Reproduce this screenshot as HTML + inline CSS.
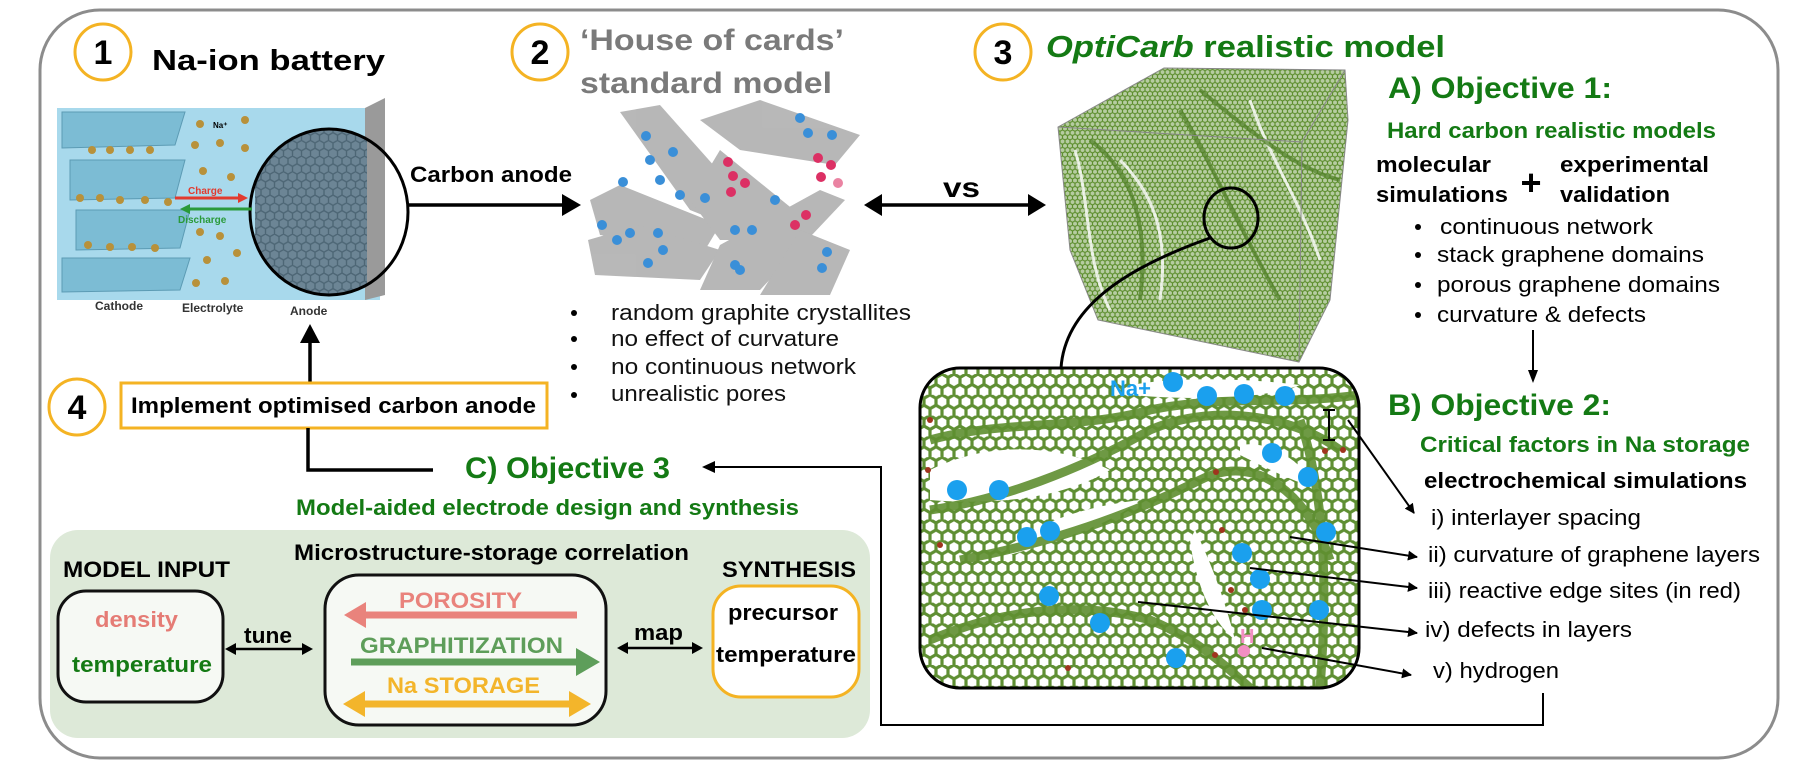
<!DOCTYPE html>
<html><head><meta charset="utf-8"><style>
html,body{margin:0;padding:0;background:#fff;}
svg{display:block;}
text{font-family:"Liberation Sans",Arial,sans-serif;}
</style></head><body>
<svg width="1794" height="772" viewBox="0 0 1794 772" xmlns="http://www.w3.org/2000/svg">
<defs>
<pattern id="hexL" width="12" height="20.78" patternUnits="userSpaceOnUse">
<path d="M0,3.46 L6,0 L12,3.46 M6,13.86 L6,20.78 M0,3.46 L0,10.39 L6,13.86 L12,10.39 L12,3.46" fill="none" stroke="#5f8f33" stroke-width="3.2"/>
</pattern>
<pattern id="hexS" width="5" height="8.66" patternUnits="userSpaceOnUse">
<path d="M0,1.44 L2.5,0 L5,1.44 M2.5,5.77 L2.5,8.66 M0,1.44 L0,4.33 L2.5,5.77 L5,4.33 L5,1.44" fill="none" stroke="#5f9030" stroke-width="1.2"/>
</pattern>
<pattern id="hexA" width="9" height="15.6" patternUnits="userSpaceOnUse">
<path d="M0,2.6 L4.5,0 L9,2.6 M4.5,10.4 L4.5,15.6 M0,2.6 L0,7.8 L4.5,10.4 L9,7.8 L9,2.6" fill="none" stroke="#4d6675" stroke-width="1.4"/>
</pattern>
<marker id="ah" markerWidth="10" markerHeight="10" refX="9" refY="5" orient="auto" markerUnits="userSpaceOnUse"><path d="M0,0 L10,5 L0,10 Z" fill="#000"/></marker>
<clipPath id="zc"><rect x="920" y="368" width="439" height="320" rx="40"/></clipPath>
<clipPath id="cc"><ellipse cx="329" cy="212" rx="79" ry="83"/></clipPath>
<clipPath id="cube"><polygon points="1058,127 1164,68 1345,70 1348,120 1330,300 1299,362 1098,320 1070,250"/></clipPath>
</defs>

<rect x="40" y="10" width="1738" height="748" rx="60" fill="none" stroke="#8c8c8c" stroke-width="3"/>

<g fill="#fff" stroke="#f4b323" stroke-width="3">
<circle cx="103" cy="52" r="28"/><circle cx="540" cy="52" r="28"/><circle cx="1003" cy="52" r="28"/><circle cx="77" cy="407" r="28"/>
</g>
<g font-size="34" font-weight="bold" text-anchor="middle" fill="#000">
<text x="103" y="64">1</text><text x="540" y="64">2</text><text x="1003" y="64">3</text><text x="77" y="419">4</text>
</g>

<text x="152" y="70" font-size="29" font-weight="bold" textLength="233" lengthAdjust="spacingAndGlyphs">Na-ion battery</text>
<text x="580" y="50" font-size="30" font-weight="bold" fill="#7a7a7a" textLength="264" lengthAdjust="spacingAndGlyphs">‘House of cards’</text>
<text x="580" y="93" font-size="30" font-weight="bold" fill="#7a7a7a" textLength="252" lengthAdjust="spacingAndGlyphs">standard model</text>
<text x="1046" y="57" font-size="31" font-weight="bold" fill="#147a14" textLength="399" lengthAdjust="spacingAndGlyphs"><tspan font-style="italic">OptiCarb</tspan> realistic model</text>

<!-- battery -->
<rect x="57" y="108" width="323" height="192" fill="#a8d9ec"/>
<polygon points="365,108 385,98 385,295 365,300" fill="#9a9a9a"/>
<g fill="#7cbcd4" stroke="#5c9bb4" stroke-width="1">
<polygon points="62,112 185,112 175,145 62,148"/>
<polygon points="70,160 185,160 175,198 70,200"/>
<polygon points="76,210 190,210 180,248 76,250"/>
<polygon points="62,258 190,258 180,290 62,292"/>
</g>
<g fill="#b8913a">
<circle cx="92" cy="150" r="4"/><circle cx="110" cy="150" r="4"/><circle cx="130" cy="150" r="4"/><circle cx="150" cy="150" r="4"/>
<circle cx="80" cy="198" r="4"/><circle cx="100" cy="198" r="4"/><circle cx="120" cy="200" r="4"/><circle cx="145" cy="200" r="4"/><circle cx="168" cy="202" r="4"/>
<circle cx="88" cy="245" r="4"/><circle cx="110" cy="247" r="4"/><circle cx="132" cy="247" r="4"/><circle cx="155" cy="248" r="4"/>
<circle cx="200" cy="124" r="4"/><circle cx="245" cy="120" r="4"/><circle cx="195" cy="145" r="4"/><circle cx="220" cy="143" r="4"/><circle cx="245" cy="148" r="4"/>
<circle cx="203" cy="171" r="4"/><circle cx="231" cy="177" r="4"/><circle cx="200" cy="232" r="4"/><circle cx="220" cy="236" r="4"/>
<circle cx="207" cy="260" r="4"/><circle cx="237" cy="253" r="4"/><circle cx="196" cy="283" r="4"/><circle cx="225" cy="281" r="4"/>
</g>
<g clip-path="url(#cc)"><rect x="255" y="130" width="112" height="170" fill="#6c8595"/><rect x="255" y="130" width="112" height="170" fill="url(#hexA)"/></g>
<ellipse cx="329" cy="212" rx="79" ry="83" fill="none" stroke="#000" stroke-width="3"/>
<line x1="175" y1="198" x2="240" y2="198" stroke="#e23a2e" stroke-width="3"/><polygon points="248,198 238,193 238,203" fill="#e23a2e"/>
<line x1="190" y1="209" x2="252" y2="209" stroke="#2a9a3a" stroke-width="3"/><polygon points="180,209 190,204 190,214" fill="#2a9a3a"/>
<text x="188" y="194" font-size="10" font-weight="bold" fill="#e23a2e">Charge</text>
<text x="178" y="223" font-size="10" font-weight="bold" fill="#2a9a3a">Discharge</text>
<text x="213" y="128" font-size="8" font-weight="bold">Na⁺</text>
<g font-size="12" font-weight="bold" fill="#333"><text x="95" y="310">Cathode</text><text x="182" y="312">Electrolyte</text><text x="290" y="315">Anode</text></g>

<line x1="408" y1="205" x2="565" y2="205" stroke="#000" stroke-width="3.5"/><polygon points="581,205 562,194 562,216" fill="#000"/>
<text x="410" y="182" font-size="22" font-weight="bold" textLength="162" lengthAdjust="spacingAndGlyphs">Carbon anode</text>

<!-- house of cards -->
<g fill="#ababab" opacity="0.85">
<polygon points="620,112 660,105 740,195 720,222 690,210"/>
<polygon points="590,200 620,185 720,225 705,250 600,235"/>
<polygon points="588,240 640,225 720,250 700,280 595,275"/>
<polygon points="700,290 720,245 820,190 845,200 760,290"/>
<polygon points="700,120 760,100 860,135 835,165 740,150"/>
<polygon points="690,200 720,150 800,215 780,240 720,240"/>
<polygon points="760,295 800,230 850,250 830,295"/>
</g>
<g fill="#3a8fd8"><circle cx="646" cy="136" r="5"/><circle cx="673" cy="152" r="5"/><circle cx="650" cy="160" r="5"/><circle cx="623" cy="182" r="5"/><circle cx="660" cy="180" r="5"/><circle cx="680" cy="195" r="5"/><circle cx="705" cy="198" r="5"/>
<circle cx="602" cy="225" r="5"/><circle cx="630" cy="233" r="5"/><circle cx="658" cy="233" r="5"/><circle cx="663" cy="250" r="5"/><circle cx="648" cy="263" r="5"/><circle cx="617" cy="240" r="5"/>
<circle cx="735" cy="230" r="5"/><circle cx="752" cy="230" r="5"/><circle cx="775" cy="200" r="5"/><circle cx="735" cy="265" r="5"/><circle cx="740" cy="270" r="5"/><circle cx="800" cy="118" r="5"/><circle cx="808" cy="133" r="5"/><circle cx="832" cy="135" r="5"/><circle cx="822" cy="268" r="5"/><circle cx="827" cy="252" r="5"/></g>
<g fill="#dc3064"><circle cx="728" cy="162" r="5"/><circle cx="733" cy="176" r="5"/><circle cx="745" cy="183" r="5"/><circle cx="731" cy="192" r="5"/><circle cx="818" cy="158" r="5"/><circle cx="831" cy="165" r="5"/><circle cx="821" cy="177" r="5"/><circle cx="838" cy="183" r="5" opacity="0.6"/><circle cx="795" cy="225" r="5"/><circle cx="806" cy="215" r="5"/></g>

<g font-size="22" fill="#111">
<circle cx="574" cy="313" r="3" fill="#000"/><circle cx="574" cy="339" r="3" fill="#000"/><circle cx="574" cy="367" r="3" fill="#000"/><circle cx="574" cy="395" r="3" fill="#000"/>
<text x="611" y="320" textLength="300" lengthAdjust="spacingAndGlyphs">random graphite crystallites</text>
<text x="611" y="346" textLength="228" lengthAdjust="spacingAndGlyphs">no effect of curvature</text>
<text x="611" y="374" textLength="245" lengthAdjust="spacingAndGlyphs">no continuous network</text>
<text x="611" y="401" textLength="175" lengthAdjust="spacingAndGlyphs">unrealistic pores</text>
</g>

<line x1="880" y1="205" x2="1030" y2="205" stroke="#000" stroke-width="3.5"/>
<polygon points="864,205 882,194 882,216" fill="#000"/><polygon points="1046,205 1028,194 1028,216" fill="#000"/>
<text x="943" y="197" font-size="28" font-weight="bold" textLength="37" lengthAdjust="spacingAndGlyphs">vs</text>

<!-- cube -->
<g clip-path="url(#cube)">
<rect x="1050" y="60" width="300" height="310" fill="#fff"/>
<rect x="1050" y="60" width="300" height="310" fill="url(#hexS)"/>
<rect x="1050" y="60" width="300" height="310" fill="#5e8f2e" opacity="0.45"/>
<g fill="none" stroke="#fff" stroke-width="3" opacity="0.8">
<path d="M1075,150 C1090,200 1085,260 1110,310"/>
<path d="M1120,160 C1150,190 1170,230 1160,300"/>
<path d="M1250,100 C1270,160 1300,200 1320,260"/>
</g>
<g fill="none" stroke="#4f7f25" stroke-width="4" opacity="0.7">
<path d="M1090,140 C1130,170 1150,220 1140,300"/>
<path d="M1180,110 C1210,160 1240,230 1280,300"/>
<path d="M1200,90 C1260,140 1300,170 1340,180"/>
</g>
</g>
<g fill="none" stroke="#888" stroke-width="1"><polygon points="1058,127 1164,68 1345,70 1348,120 1330,300 1299,362 1098,320 1070,250"/><polyline points="1058,127 1302,142 1345,70"/><line x1="1302" y1="142" x2="1299" y2="362"/></g>
<ellipse cx="1231" cy="218" rx="27" ry="30" fill="none" stroke="#000" stroke-width="3"/>
<path d="M1210,238 C1120,270 1065,310 1061,368" fill="none" stroke="#000" stroke-width="3"/>

<text x="1388" y="98" font-size="30" font-weight="bold" fill="#147a14" textLength="224" lengthAdjust="spacingAndGlyphs">A)  Objective 1:</text>
<text x="1387" y="138" font-size="22" font-weight="bold" fill="#147a14" textLength="329" lengthAdjust="spacingAndGlyphs">Hard carbon realistic models</text>
<g font-size="22" font-weight="bold">
<text x="1376" y="172" textLength="115" lengthAdjust="spacingAndGlyphs">molecular</text>
<text x="1376" y="202" textLength="132" lengthAdjust="spacingAndGlyphs">simulations</text>
<text x="1560" y="172" textLength="149" lengthAdjust="spacingAndGlyphs">experimental</text>
<text x="1560" y="202" textLength="110" lengthAdjust="spacingAndGlyphs">validation</text>
<text x="1531" y="195" font-size="36" text-anchor="middle">+</text>
</g>
<g font-size="22">
<circle cx="1418" cy="227" r="3"/><circle cx="1418" cy="255" r="3"/><circle cx="1418" cy="285" r="3"/><circle cx="1418" cy="315" r="3"/>
<text x="1440" y="234" textLength="213" lengthAdjust="spacingAndGlyphs">continuous network</text>
<text x="1437" y="262" textLength="267" lengthAdjust="spacingAndGlyphs">stack graphene domains</text>
<text x="1437" y="292" textLength="283" lengthAdjust="spacingAndGlyphs">porous graphene domains</text>
<text x="1437" y="322" textLength="209" lengthAdjust="spacingAndGlyphs">curvature &amp; defects</text>
</g>
<line x1="1533" y1="330" x2="1533" y2="372" stroke="#000" stroke-width="2"/><polygon points="1533,383 1528,370 1538,370" fill="#000"/>

<!-- zoom box -->
<g clip-path="url(#zc)">
<rect x="920" y="368" width="439" height="320" fill="#fff"/>
<rect x="920" y="368" width="439" height="320" fill="url(#hexL)"/>
<g fill="#fff">
<path d="M930,470 C990,440 1060,445 1110,470 C1060,500 990,505 930,500 Z"/>
<path d="M1010,545 C1050,515 1100,505 1140,500 C1110,525 1060,540 1010,555 Z"/>
<path d="M1130,385 C1190,375 1260,380 1300,385 C1260,400 1190,400 1130,395 Z"/>
<path d="M1240,445 C1270,440 1300,460 1320,490 C1290,480 1260,465 1240,455 Z"/>
<path d="M1195,530 C1210,560 1225,600 1235,640 C1210,620 1195,580 1190,540 Z"/>
</g>
<g fill="none" stroke="#5f8f30" stroke-width="9" opacity="0.9">
<path d="M930,440 C1000,420 1080,430 1150,410 C1220,395 1290,405 1359,395"/>
<path d="M930,510 C1000,500 1080,470 1150,430 C1220,400 1300,420 1340,450"/>
<path d="M960,560 C1040,545 1120,520 1200,480 C1260,450 1310,500 1330,560"/>
<path d="M930,640 C1000,610 1080,600 1150,620 C1200,640 1230,670 1250,688"/>
<path d="M1300,420 C1320,480 1330,560 1320,688"/>
</g>
<g fill="#a0341e"><circle cx="930" cy="420" r="3"/><circle cx="928" cy="470" r="3"/><circle cx="940" cy="545" r="3"/><circle cx="1216" cy="472" r="3"/><circle cx="1222" cy="530" r="3"/><circle cx="1231" cy="590" r="3"/><circle cx="1245" cy="610" r="3"/><circle cx="1325" cy="451" r="3"/><circle cx="1343" cy="450" r="3"/><circle cx="1068" cy="668" r="3"/><circle cx="1215" cy="655" r="3"/></g>
</g>
<rect x="920" y="368" width="439" height="320" rx="40" fill="none" stroke="#000" stroke-width="3"/>
<g fill="#1aa0ee">
<circle cx="1173" cy="382" r="10"/><circle cx="1207" cy="396" r="10"/><circle cx="1244" cy="394" r="10"/><circle cx="1285" cy="396" r="10"/><circle cx="1272" cy="453" r="10"/><circle cx="1308" cy="477" r="10"/>
<circle cx="957" cy="490" r="10"/><circle cx="999" cy="490" r="10"/><circle cx="1027" cy="537" r="10"/><circle cx="1050" cy="531" r="10"/><circle cx="1326" cy="532" r="10"/><circle cx="1242" cy="553" r="10"/>
<circle cx="1260" cy="579" r="10"/><circle cx="1262" cy="610" r="10"/><circle cx="1319" cy="610" r="10"/><circle cx="1049" cy="596" r="10"/><circle cx="1100" cy="623" r="10"/><circle cx="1176" cy="658" r="10"/>
</g>
<text x="1110" y="396" font-size="22" font-weight="bold" fill="#1aa0ee">Na+</text>
<text x="1240" y="643" font-size="20" font-weight="bold" fill="#f28fc2">H</text>
<circle cx="1244" cy="651" r="6" fill="#f28fc2"/>

<text x="1388" y="415" font-size="30" font-weight="bold" fill="#147a14" textLength="223" lengthAdjust="spacingAndGlyphs">B)  Objective 2:</text>
<text x="1420" y="452" font-size="22" font-weight="bold" fill="#147a14" textLength="330" lengthAdjust="spacingAndGlyphs">Critical factors in Na storage</text>
<text x="1424" y="488" font-size="22" font-weight="bold" textLength="323" lengthAdjust="spacingAndGlyphs">electrochemical simulations</text>
<g font-size="22">
<text x="1431" y="525" textLength="210" lengthAdjust="spacingAndGlyphs">i) interlayer spacing</text>
<text x="1428" y="562" textLength="332" lengthAdjust="spacingAndGlyphs">ii) curvature of graphene layers</text>
<text x="1428" y="598" textLength="313" lengthAdjust="spacingAndGlyphs">iii) reactive edge sites (in red)</text>
<text x="1425" y="637" textLength="207" lengthAdjust="spacingAndGlyphs">iv) defects in layers</text>
<text x="1433" y="678" textLength="126" lengthAdjust="spacingAndGlyphs">v) hydrogen</text>
</g>
<g stroke="#000" stroke-width="2" fill="none">
<line x1="1329" y1="410" x2="1329" y2="440"/><line x1="1323" y1="410" x2="1335" y2="410"/><line x1="1323" y1="440" x2="1335" y2="440"/>
<line x1="1348" y1="420" x2="1414" y2="513" marker-end="url(#ah)"/>
<line x1="1290" y1="537" x2="1417" y2="557" marker-end="url(#ah)"/>
<line x1="1250" y1="568" x2="1417" y2="588" marker-end="url(#ah)"/>
<line x1="1138" y1="602" x2="1417" y2="633" marker-end="url(#ah)"/>
<line x1="1262" y1="648" x2="1411" y2="675" marker-end="url(#ah)"/>
</g>

<polyline points="1543,693 1543,725 881,725 881,467 712,467" fill="none" stroke="#000" stroke-width="2"/>
<polygon points="702,467 715,461 715,473" fill="#000"/>

<line x1="310" y1="382" x2="310" y2="340" stroke="#000" stroke-width="3.5"/><polygon points="310,324 300,343 320,343" fill="#000"/>
<rect x="121" y="383" width="426" height="45" fill="#fff" stroke="#f4b323" stroke-width="3"/>
<text x="131" y="413" font-size="22" font-weight="bold" textLength="405" lengthAdjust="spacingAndGlyphs">Implement optimised carbon anode</text>
<polyline points="308,428 308,470 433,470" fill="none" stroke="#000" stroke-width="3.5"/>
<text x="465" y="478" font-size="30" font-weight="bold" fill="#147a14" textLength="205" lengthAdjust="spacingAndGlyphs">C) Objective 3</text>
<text x="296" y="515" font-size="22" font-weight="bold" fill="#147a14" textLength="503" lengthAdjust="spacingAndGlyphs">Model-aided electrode design and synthesis</text>

<rect x="50" y="530" width="820" height="208" rx="28" fill="#dde9d8"/>
<text x="294" y="560" font-size="22" font-weight="bold" textLength="395" lengthAdjust="spacingAndGlyphs">Microstructure-storage correlation</text>
<text x="63" y="577" font-size="22" font-weight="bold" textLength="167" lengthAdjust="spacingAndGlyphs">MODEL INPUT</text>
<text x="722" y="577" font-size="22" font-weight="bold" textLength="134" lengthAdjust="spacingAndGlyphs">SYNTHESIS</text>
<rect x="58" y="591" width="165" height="111" rx="28" fill="#f6f9f4" stroke="#111" stroke-width="3"/>
<text x="95" y="627" font-size="22" font-weight="bold" fill="#e57c75" textLength="83" lengthAdjust="spacingAndGlyphs">density</text>
<text x="72" y="672" font-size="22" font-weight="bold" fill="#147a14" textLength="140" lengthAdjust="spacingAndGlyphs">temperature</text>
<rect x="325" y="575" width="281" height="150" rx="34" fill="#f6f9f4" stroke="#111" stroke-width="3"/>
<rect x="713" y="586" width="146" height="111" rx="28" fill="#fff" stroke="#f4b323" stroke-width="3"/>
<text x="728" y="620" font-size="22" font-weight="bold" textLength="110" lengthAdjust="spacingAndGlyphs">precursor</text>
<text x="716" y="662" font-size="22" font-weight="bold" textLength="140" lengthAdjust="spacingAndGlyphs">temperature</text>
<line x1="234" y1="649" x2="304" y2="649" stroke="#000" stroke-width="2.5"/>
<polygon points="225,649 236,643 236,655" fill="#000"/><polygon points="313,649 302,643 302,655" fill="#000"/>
<text x="244" y="643" font-size="22" font-weight="bold" textLength="48" lengthAdjust="spacingAndGlyphs">tune</text>
<line x1="626" y1="648" x2="694" y2="648" stroke="#000" stroke-width="2.5"/>
<polygon points="617,648 628,642 628,654" fill="#000"/><polygon points="703,648 692,642 692,654" fill="#000"/>
<text x="634" y="640" font-size="22" font-weight="bold" textLength="49" lengthAdjust="spacingAndGlyphs">map</text>
<text x="399" y="608" font-size="22" font-weight="bold" fill="#e9837c" textLength="123" lengthAdjust="spacingAndGlyphs">POROSITY</text>
<line x1="577" y1="615" x2="362" y2="615" stroke="#e9837c" stroke-width="7"/><polygon points="344,615 366,602 366,628" fill="#e9837c"/>
<text x="360" y="653" font-size="22" font-weight="bold" fill="#5e9e5a" textLength="203" lengthAdjust="spacingAndGlyphs">GRAPHITIZATION</text>
<line x1="351" y1="662" x2="580" y2="662" stroke="#5e9e5a" stroke-width="7"/><polygon points="600,662 576,648 576,676" fill="#5e9e5a"/>
<text x="387" y="693" font-size="22" font-weight="bold" fill="#f3b52b" textLength="153" lengthAdjust="spacingAndGlyphs">Na STORAGE</text>
<line x1="360" y1="704" x2="574" y2="704" stroke="#f3b52b" stroke-width="7"/>
<polygon points="343,704 365,691 365,717" fill="#f3b52b"/><polygon points="591,704 569,691 569,717" fill="#f3b52b"/>
</svg>
</body></html>
